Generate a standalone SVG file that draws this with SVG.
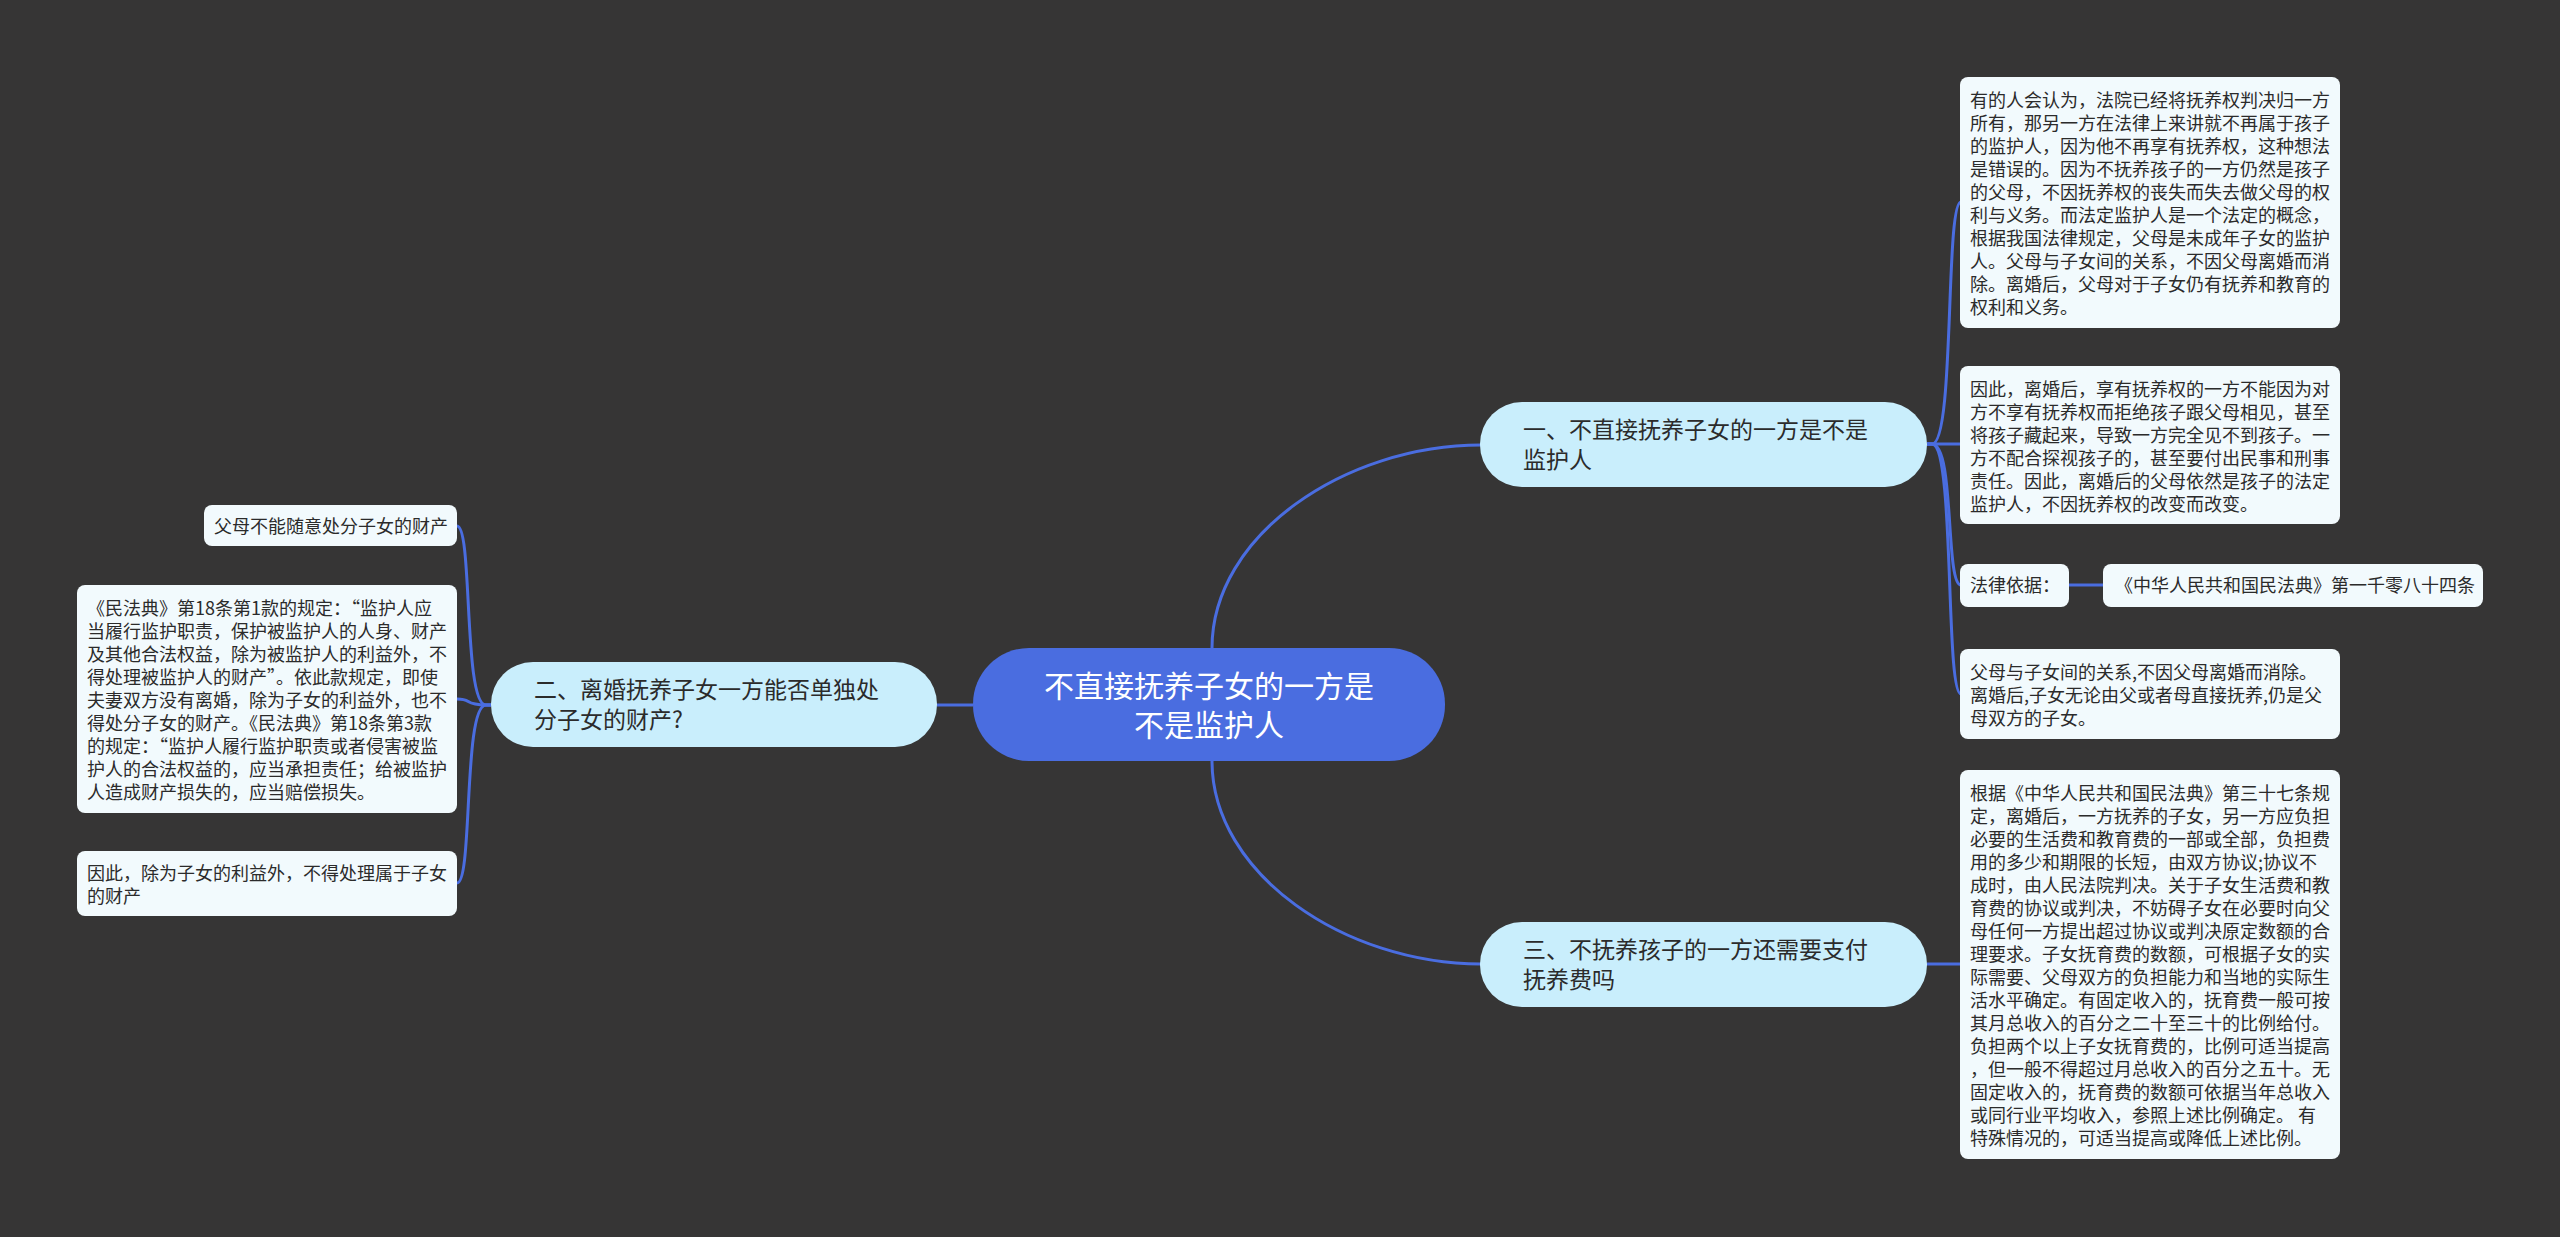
<svg xmlns="http://www.w3.org/2000/svg" width="2560" height="1237" viewBox="0 0 2560 1237">
<style>
.bg{fill:#363535}
.root rect{fill:#4a6de0}
.root text{fill:#ffffff;font-size:30px}
.branch rect{fill:#c9eefc}
.branch text{fill:#2b2b2b;font-size:23px}
.leaf rect{fill:#f2fafd}
.leaf text{fill:#2b2b2b;font-size:18px}
.fw{font-feature-settings:"fwid" 1}
text{font-family:"Noto Sans CJK SC","Microsoft YaHei",sans-serif}
.links path{fill:none;stroke:#4a6de0;stroke-width:3}
</style>
<rect class="bg" x="0" y="0" width="2560" height="1237"/>

<g class="links">
<path d="M1212,648 C1212,535 1345,445 1481,445"/>
<path d="M1212,761 C1212,874 1345,964 1481,964"/>
<path d="M973,705 H937"/>
<path d="M1927,444 H1932 C1955,444 1945,202 1961,202"/>
<path d="M1927,444 H1961"/>
<path d="M1927,444 H1932 C1955,444 1945,585 1961,585"/>
<path d="M1927,444 H1932 C1955,444 1945,694 1961,694"/>
<path d="M2069,585 H2103"/>
<path d="M1927,964 H1961"/>
<path d="M491,705 H486 C463,705 473,526 457,526"/>
<path d="M491,705 H486 C463,705 473,699 457,699"/>
<path d="M491,705 H486 C463,705 473,883 457,883"/>
</g>

<g id="root" class="root">
<rect x="973" y="648" width="472" height="113" rx="56"/>
<text x="1209" y="697" text-anchor="middle">不直接抚养子女的一方是</text>
<text x="1209" y="736" text-anchor="middle">不是监护人</text>
</g>

<g id="branch1" class="branch">
<rect x="1480" y="402" width="447" height="85" rx="42"/>
<text x="1523" y="438">一、不直接抚养子女的一方是不是</text>
<text x="1523" y="468">监护人</text>
</g>

<g id="branch2" class="branch">
<rect x="491" y="662" width="446" height="85" rx="42"/>
<text x="534" y="698">二、离婚抚养子女一方能否单独处</text>
<text x="534" y="728">分子女的财产?</text>
</g>

<g id="branch3" class="branch">
<rect x="1480" y="922" width="447" height="85" rx="42"/>
<text x="1523" y="958">三、不抚养孩子的一方还需要支付</text>
<text x="1523" y="988">抚养费吗</text>
</g>

<g id="leafA" class="leaf">
<rect x="1960" y="77" width="380" height="251" rx="8"/>
<text x="1970" y="107">
<tspan x="1970" dy="0">有的人会认为，法院已经将抚养权判决归一方</tspan>
<tspan x="1970" dy="23">所有，那另一方在法律上来讲就不再属于孩子</tspan>
<tspan x="1970" dy="23">的监护人，因为他不再享有抚养权，这种想法</tspan>
<tspan x="1970" dy="23">是错误的。因为不抚养孩子的一方仍然是孩子</tspan>
<tspan x="1970" dy="23">的父母，不因抚养权的丧失而失去做父母的权</tspan>
<tspan x="1970" dy="23">利与义务。而法定监护人是一个法定的概念，</tspan>
<tspan x="1970" dy="23">根据我国法律规定，父母是未成年子女的监护</tspan>
<tspan x="1970" dy="23">人。父母与子女间的关系，不因父母离婚而消</tspan>
<tspan x="1970" dy="23">除。离婚后，父母对于子女仍有抚养和教育的</tspan>
<tspan x="1970" dy="23">权利和义务。</tspan>
</text>
</g>

<g id="leafB" class="leaf">
<rect x="1960" y="366" width="380" height="158" rx="8"/>
<text x="1970" y="396">
<tspan x="1970" dy="0">因此，离婚后，享有抚养权的一方不能因为对</tspan>
<tspan x="1970" dy="23">方不享有抚养权而拒绝孩子跟父母相见，甚至</tspan>
<tspan x="1970" dy="23">将孩子藏起来，导致一方完全见不到孩子。一</tspan>
<tspan x="1970" dy="23">方不配合探视孩子的，甚至要付出民事和刑事</tspan>
<tspan x="1970" dy="23">责任。因此，离婚后的父母依然是孩子的法定</tspan>
<tspan x="1970" dy="23">监护人，不因抚养权的改变而改变。</tspan>
</text>
</g>

<g id="leafC" class="leaf">
<rect x="1960" y="564" width="109" height="43" rx="8"/>
<text x="1970" y="592">法律依据：</text>
</g>

<g id="leafC2" class="leaf">
<rect x="2103" y="564" width="380" height="43" rx="8"/>
<text x="2115" y="592">《中华人民共和国民法典》第一千零八十四条</text>
</g>

<g id="leafD" class="leaf">
<rect x="1960" y="649" width="380" height="90" rx="8"/>
<text x="1970" y="679">
<tspan x="1970" dy="0">父母与子女间的关系,不因父母离婚而消除。</tspan>
<tspan x="1970" dy="23">离婚后,子女无论由父或者母直接抚养,仍是父</tspan>
<tspan x="1970" dy="23">母双方的子女。</tspan>
</text>
</g>

<g id="leafE" class="leaf">
<rect x="1960" y="770" width="380" height="389" rx="8"/>
<text x="1970" y="800">
<tspan x="1970" dy="0">根据《中华人民共和国民法典》第三十七条规</tspan>
<tspan x="1970" dy="23">定，离婚后，一方抚养的子女，另一方应负担</tspan>
<tspan x="1970" dy="23">必要的生活费和教育费的一部或全部，负担费</tspan>
<tspan x="1970" dy="23">用的多少和期限的长短，由双方协议;协议不</tspan>
<tspan x="1970" dy="23">成时，由人民法院判决。关于子女生活费和教</tspan>
<tspan x="1970" dy="23">育费的协议或判决，不妨碍子女在必要时向父</tspan>
<tspan x="1970" dy="23">母任何一方提出超过协议或判决原定数额的合</tspan>
<tspan x="1970" dy="23">理要求。子女抚育费的数额，可根据子女的实</tspan>
<tspan x="1970" dy="23">际需要、父母双方的负担能力和当地的实际生</tspan>
<tspan x="1970" dy="23">活水平确定。有固定收入的，抚育费一般可按</tspan>
<tspan x="1970" dy="23">其月总收入的百分之二十至三十的比例给付。</tspan>
<tspan x="1970" dy="23">负担两个以上子女抚育费的，比例可适当提高</tspan>
<tspan x="1970" dy="23">，但一般不得超过月总收入的百分之五十。无</tspan>
<tspan x="1970" dy="23">固定收入的，抚育费的数额可依据当年总收入</tspan>
<tspan x="1970" dy="23">或同行业平均收入，参照上述比例确定。 有</tspan>
<tspan x="1970" dy="23">特殊情况的，可适当提高或降低上述比例。</tspan>
</text>
</g>

<g id="leafL1" class="leaf">
<rect x="204" y="505" width="253" height="41" rx="8"/>
<text x="214" y="533">父母不能随意处分子女的财产</text>
</g>

<g id="leafL2" class="leaf">
<rect x="77" y="585" width="380" height="228" rx="8"/>
<text x="87" y="615">
<tspan x="87" dy="0">《民法典》第18条第1款的规定：<tspan class="fw">“</tspan>监护人应</tspan>
<tspan x="87" dy="23">当履行监护职责，保护被监护人的人身、财产</tspan>
<tspan x="87" dy="23">及其他合法权益，除为被监护人的利益外，不</tspan>
<tspan x="87" dy="23">得处理被监护人的财产<tspan class="fw">”</tspan>。依此款规定，即使</tspan>
<tspan x="87" dy="23">夫妻双方没有离婚，除为子女的利益外，也不</tspan>
<tspan x="87" dy="23">得处分子女的财产。《民法典》第18条第3款</tspan>
<tspan x="87" dy="23">的规定：<tspan class="fw">“</tspan>监护人履行监护职责或者侵害被监</tspan>
<tspan x="87" dy="23">护人的合法权益的，应当承担责任；给被监护</tspan>
<tspan x="87" dy="23">人造成财产损失的，应当赔偿损失。</tspan>
</text>
</g>

<g id="leafL3" class="leaf">
<rect x="77" y="851" width="380" height="65" rx="8"/>
<text x="87" y="880">
<tspan x="87" dy="0">因此，除为子女的利益外，不得处理属于子女</tspan>
<tspan x="87" dy="23">的财产</tspan>
</text>
</g>
</svg>
